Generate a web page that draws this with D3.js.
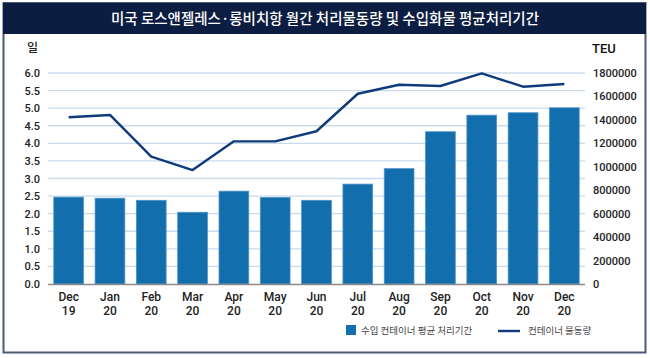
<!DOCTYPE html>
<html><head><meta charset="utf-8">
<script src="https://cdn.jsdelivr.net/npm/d3@7"></script>
<style>
html,body{margin:0;padding:0;background:#fff;}
svg{display:block;}
</style></head>
<body>
<svg id="chart" width="650" height="358"></svg>
<script>
const months = ["Dec","Jan","Feb","Mar","Apr","May","Jun","Jul","Aug","Sep","Oct","Nov","Dec"];
const years  = ["19","20","20","20","20","20","20","20","20","20","20","20","20"];
const dwellDays = [2.47,2.44,2.38,2.04,2.64,2.46,2.38,2.84,3.28,4.33,4.80,4.87,5.01];
const teu = [1422000,1442000,1086000,972000,1217000,1217000,1303000,1623000,1700000,1689000,1797000,1683000,1706000];
const leftTicks = [0,0.5,1,1.5,2,2.5,3,3.5,4,4.5,5,5.5,6];
const rightTicks = [0,200000,400000,600000,800000,1000000,1200000,1400000,1600000,1800000];
const title = "미국 로스앤젤레스·롱비치항 월간 처리물동량 및 수입화물 평균처리기간";
const legendBar = "수입 컨테이너 평균 처리기간";
const legendLine = "컨테이너 물동량";

const svg = d3.select("#chart");
const font = "'Roboto','Noto Sans CJK KR',sans-serif";
const kfont = "'Noto Sans CJK KR','Noto Sans',sans-serif";

// frame
svg.append("rect").attr("x",3.5).attr("y",3).attr("width",642).attr("height",349.5)
  .attr("fill","#fff").attr("stroke","#4b5a76").attr("stroke-width",2);
svg.append("rect").attr("x",3).attr("y",3).attr("width",643).attr("height",31).attr("fill","#0c1d42");
svg.append("text").attr("x",325).attr("y",24).attr("text-anchor","middle")
  .attr("fill","#fff").attr("font-family",kfont).attr("font-size",14.5).attr("font-weight",500)
  .text(title);

const x0 = 48, x1 = 585, yTop = 73, yBot = 284;
const idx = d3.range(months.length);
const x = d3.scaleBand().domain(idx).range([x0,x1]).paddingInner(0.28).paddingOuter(0.14);
const yL = d3.scaleLinear().domain([0,6]).range([yBot,yTop]);
const yR = d3.scaleLinear().domain([0,1800000]).range([yBot,yTop]);

// grid
svg.append("g").selectAll("line").data(leftTicks.filter(d=>d>0)).join("line")
  .attr("x1",x0).attr("x2",x1).attr("y1",d=>yL(d)).attr("y2",d=>yL(d))
  .attr("stroke","#c9dcec").attr("stroke-width",1.3);

// left axis
const gl = svg.append("g").attr("transform",`translate(${x0},0)`)
  .call(d3.axisLeft(yL).tickValues(leftTicks).tickFormat(d3.format(".1f")).tickSize(0).tickPadding(8));
gl.select(".domain").remove();
gl.selectAll("text").attr("font-family",font).attr("font-size",11).attr("font-weight",500).attr("fill","#222");

// right axis
const gr = svg.append("g").attr("transform",`translate(${x1},0)`)
  .call(d3.axisRight(yR).tickValues(rightTicks).tickFormat(d3.format("d")).tickSize(0).tickPadding(8));
gr.select(".domain").remove();
gr.selectAll("text").attr("font-family",font).attr("font-size",11).attr("font-weight",500).attr("fill","#222");

svg.append("text").attr("x",27).attr("y",52).attr("font-family",kfont).attr("font-size",12).attr("font-weight",500).attr("fill","#222").text("일");
svg.append("text").attr("x",592).attr("y",53).attr("font-family",font).attr("font-size",13).attr("font-weight",500).attr("fill","#111").text("TEU");

// bars
svg.append("g").selectAll("rect").data(idx).join("rect")
  .attr("x",i=>x(i)).attr("width",x.bandwidth())
  .attr("y",i=>yL(dwellDays[i])).attr("height",i=>yBot-yL(dwellDays[i]))
  .attr("fill","#136eae").attr("stroke","#4f93c8").attr("stroke-width",0.8);

// baseline
svg.append("line").attr("x1",x0).attr("x2",x1).attr("y1",yBot+0.5).attr("y2",yBot+0.5)
  .attr("stroke","#8a8a8a").attr("stroke-width",1.5);

// line
const line = d3.line().x(i=>x(i)+x.bandwidth()/2).y(i=>yR(teu[i]));
svg.append("path").datum(idx).attr("d",line).attr("fill","none")
  .attr("stroke","#0f3a7c").attr("stroke-width",2.4).attr("stroke-linejoin","round");

// x labels
const gx = svg.append("g");
idx.forEach(i=>{
  const t = gx.append("text").attr("x",x(i)+x.bandwidth()/2).attr("text-anchor","middle")
    .attr("font-family",font).attr("font-size",12).attr("font-weight",500).attr("fill","#222");
  t.append("tspan").attr("x",x(i)+x.bandwidth()/2).attr("y",301).text(months[i]);
  t.append("tspan").attr("x",x(i)+x.bandwidth()/2).attr("y",315).text(years[i]);
});

// legend
svg.append("rect").attr("x",346).attr("y",325).attr("width",10).attr("height",10).attr("fill","#136eae");
svg.append("text").attr("x",361).attr("y",334).attr("font-family",kfont).attr("font-size",9.5).attr("fill","#444").text(legendBar);
svg.append("line").attr("x1",498).attr("x2",520).attr("y1",331).attr("y2",331).attr("stroke","#0f3a7c").attr("stroke-width",2.4);
svg.append("text").attr("x",528).attr("y",334).attr("font-family",kfont).attr("font-size",9.5).attr("fill","#444").text(legendLine);
</script>
</body></html>
